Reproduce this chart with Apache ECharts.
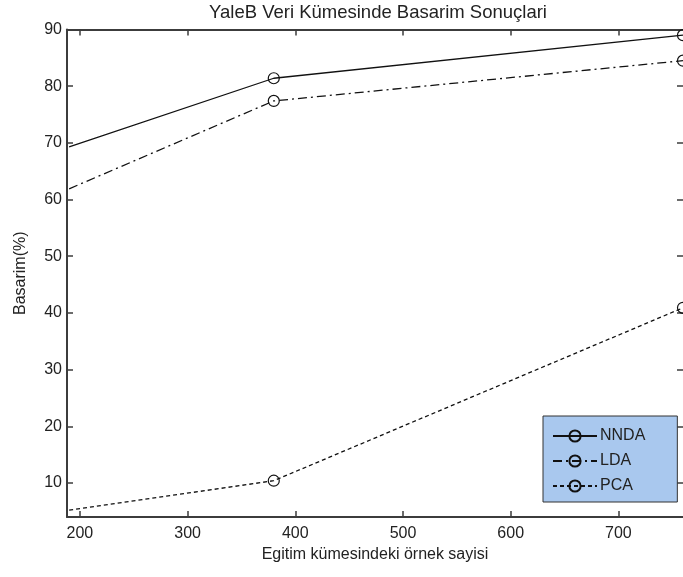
<!DOCTYPE html>
<html>
<head>
<meta charset="utf-8">
<script src="https://cdn.jsdelivr.net/npm/echarts@6/dist/echarts.min.js"></script>
<style>
html,body{margin:0;padding:0;background:#fff;}
#c{width:683px;height:577px;}
</style>
</head>
<body>
<div id="c"></div>
<script>
const xValues = [190, 380, 760];
const nndaValues = [69.3, 81.4, 89.0];
const ldaValues = [61.9, 77.4, 84.5];
const pcaValues = [5.2, 10.4, 40.9];
const xTicks = [200, 300, 400, 500, 600, 700];
const yTicks = [10, 20, 30, 40, 50, 60, 70, 80, 90];
const seriesNames = ['NNDA', 'LDA', 'PCA'];

const FONT = 'Liberation Sans, Arial, sans-serif';
const AXC = '#3c3c3c';

function buildData(vals) {
  return xValues.map((x, i) => i === 0 ? { value: [x, vals[i]], symbol: 'none' } : [x, vals[i]]);
}

function mkSeries(name, vals, dash) {
  return {
    name: name,
    type: 'line',
    data: buildData(vals),
    symbol: 'circle',
    symbolSize: 11,
    clip: true,
    lineStyle: { color: '#111', width: 1.3, type: dash },
    itemStyle: { color: 'transparent', borderColor: '#111', borderWidth: 1.2 },
    emphasis: { disabled: true },
    z: 3
  };
}

const chart = echarts.init(document.getElementById('c'), null, { renderer: 'canvas' });
chart.setOption({
  animation: false,
  backgroundColor: '#fff',
  title: {
    text: 'YaleB Veri Kümesinde Basarim Sonuçlari',
    left: 373, textAlign: 'center', top: -2,
    textStyle: { fontFamily: FONT, fontSize: 18.5, fontWeight: 'normal', color: '#222' }
  },
  grid: { left: 67, top: 29.5, width: 618, height: 487.5, containLabel: false },
  legend: {
    data: seriesNames,
    orient: 'vertical',
    left: 543, top: 416,
    padding: [12, 32, 8, 9],
    itemWidth: 44, itemHeight: 14, itemGap: 9,
    backgroundColor: '#a9c8ee',
    borderColor: '#333', borderWidth: 1,
    textStyle: { fontFamily: FONT, fontSize: 16, lineHeight: 16, color: '#222', padding: [0, 0, 0, -2] }
  },
  xAxis: [{
    type: 'value', min: 188, max: 760, position: 'bottom',
    name: 'Egitim kümesindeki örnek sayisi', nameLocation: 'middle', nameGap: 30,
    nameTextStyle: { fontFamily: FONT, fontSize: 16, color: '#222' },
    axisLine: { show: true, onZero: false, lineStyle: { color: AXC, width: 2 } },
    axisTick: { show: true, inside: true, length: 6, customValues: xTicks, lineStyle: { color: AXC, width: 1.5 } },
    axisLabel: { customValues: xTicks, margin: 9, fontFamily: FONT, fontSize: 16, color: '#222' },
    splitLine: { show: false }
  }, {
    type: 'value', min: 188, max: 760, position: 'top',
    axisLine: { show: true, onZero: false, lineStyle: { color: AXC, width: 2 } },
    axisTick: { show: true, inside: true, length: 6, customValues: xTicks, lineStyle: { color: AXC, width: 1.5 } },
    axisLabel: { show: false },
    splitLine: { show: false }
  }],
  yAxis: [{
    type: 'value', min: 4, max: 90, position: 'left',
    name: 'Basarim(%)', nameLocation: 'middle', nameGap: 38, nameRotate: 90,
    nameTextStyle: { fontFamily: FONT, fontSize: 16, color: '#222' },
    axisLine: { show: true, onZero: false, lineStyle: { color: AXC, width: 2 } },
    axisTick: { show: true, inside: true, length: 6, customValues: yTicks, lineStyle: { color: AXC, width: 1.5 } },
    axisLabel: { customValues: yTicks, margin: 5, fontFamily: FONT, fontSize: 16, color: '#222' },
    splitLine: { show: false }
  }, {
    type: 'value', min: 4, max: 90, position: 'right',
    axisLine: { show: false },
    axisTick: { show: true, inside: true, length: 6, customValues: yTicks, lineStyle: { color: AXC, width: 1.5 } },
    axisLabel: { show: false },
    splitLine: { show: false }
  }],
  series: [
    mkSeries('NNDA', nndaValues, 'solid'),
    mkSeries('LDA', ldaValues, [9, 4, 2, 4]),
    mkSeries('PCA', pcaValues, [4, 3])
  ]
});
</script>
</body>
</html>
